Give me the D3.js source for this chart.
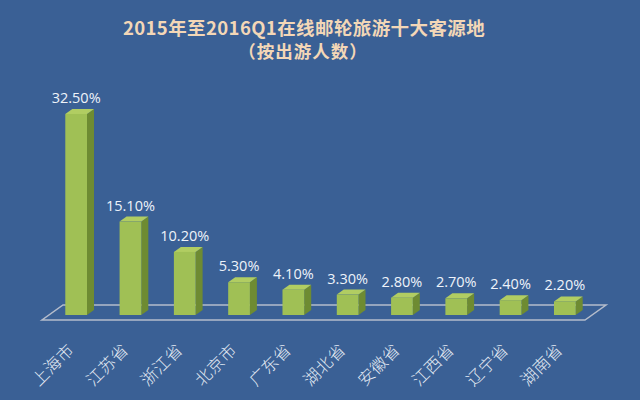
<!DOCTYPE html>
<html>
<head>
<meta charset="utf-8">
<script src="https://cdn.jsdelivr.net/npm/d3@7"></script>
<style>
  html, body { margin: 0; padding: 0; background: #3a6095; }
  svg { display: block; }
</style>
</head>
<body>
<svg id="chart" width="640" height="400"></svg>
<script>
const TITLE_LINE1 = '2015年至2016Q1在线邮轮旅游十大客源地';
const TITLE_LINE2 = '（按出游人数）';

const categories = ['上海市', '江苏省', '浙江省', '北京市', '广东省', '湖北省', '安徽省', '江西省', '辽宁省', '湖南省'];
const shares = [32.5, 15.1, 10.2, 5.3, 4.1, 3.3, 2.8, 2.7, 2.4, 2.2];

const DEPTH_X = 7;
const DEPTH_Y = 5;

const FRONT_COLOUR = '#a0c055';
const SIDE_COLOUR = '#6e8b32';
const TOP_COLOUR = '#b1cd62';

const svg = d3.select('#chart');

const x = d3.scaleBand()
    .domain(categories)
    .range([49, 592])
    .paddingInner(0.6)
    .paddingOuter(0.3);

const y = d3.scaleLinear()
    .domain([0, 35])
    .range([315, 315 - 35 * 6.185]);

const base = y(0);
const [x0, x1] = x.range();

// floor, one bar depth in front of and behind the bars
const floor = [
    [x0 - DEPTH_X, base + DEPTH_Y],
    [x1 - DEPTH_X, base + DEPTH_Y],
    [x1 + 2 * DEPTH_X, base - 2 * DEPTH_Y],
    [x0 + 2 * DEPTH_X, base - 2 * DEPTH_Y]
];
svg.append('polygon')
    .attr('points', floor.map(p => p.join(',')).join(' '))
    .attr('fill', 'none')
    .attr('stroke', '#b4bccb')
    .attr('stroke-width', 1.5);

const bars = svg.selectAll('g.bar')
    .data(shares)
    .enter().append('g')
    .attr('class', 'bar');

const bx = (d, i) => x(categories[i]);
const bw = x.bandwidth();

bars.append('polygon')
    .attr('points', (d, i) => {
        const l = bx(d, i) + bw, t = y(d);
        return [[l, t], [l + DEPTH_X, t - DEPTH_Y], [l + DEPTH_X, base - DEPTH_Y], [l, base]].map(p => p.join(',')).join(' ');
    })
    .attr('fill', SIDE_COLOUR);

bars.append('polygon')
    .attr('points', (d, i) => {
        const l = bx(d, i), t = y(d);
        return [[l, t], [l + DEPTH_X, t - DEPTH_Y], [l + bw + DEPTH_X, t - DEPTH_Y], [l + bw, t]].map(p => p.join(',')).join(' ');
    })
    .attr('fill', TOP_COLOUR);

bars.append('rect')
    .attr('x', (d, i) => bx(d, i))
    .attr('y', d => y(d))
    .attr('width', bw)
    .attr('height', d => base - y(d))
    .attr('fill', FRONT_COLOUR);

bars.append('text')
    .attr('x', (d, i) => bx(d, i) + bw / 2)
    .attr('y', d => y(d) - DEPTH_Y - 6)
    .attr('text-anchor', 'middle')
    .attr('font-family', '"Open Sans", "Liberation Sans", sans-serif')
    .attr('font-size', 14.5)
    .attr('fill', '#eef3fa')
    .text(d => d.toFixed(2) + '%');

svg.selectAll('text.cat')
    .data(categories)
    .enter().append('text')
    .attr('class', 'cat')
    .attr('transform', d => `translate(${x(d) + bw / 2 - 1},351) rotate(-45)`)
    .attr('text-anchor', 'end')
    .attr('font-family', '"Noto Sans CJK SC", sans-serif')
    .attr('font-weight', 300)
    .attr('font-size', 16.5)
    .attr('letter-spacing', 0.5)
    .attr('fill', '#e4ebf4')
    .text(d => d);

svg.append('text')
    .attr('x', 304)
    .attr('y', 35)
    .attr('text-anchor', 'middle')
    .attr('font-family', '"Noto Sans CJK SC", sans-serif')
    .attr('font-weight', 'bold')
    .attr('font-size', 18.5)
    .attr('letter-spacing', 0.4)
    .attr('fill', '#f3d7b7')
    .text(TITLE_LINE1);

svg.append('text')
    .attr('x', 303)
    .attr('y', 58)
    .attr('text-anchor', 'middle')
    .attr('font-family', '"Noto Sans CJK SC", sans-serif')
    .attr('font-weight', 'bold')
    .attr('font-size', 17.5)
    .attr('letter-spacing', 1)
    .attr('fill', '#f3d7b7')
    .text(TITLE_LINE2);
</script>
</body>
</html>
